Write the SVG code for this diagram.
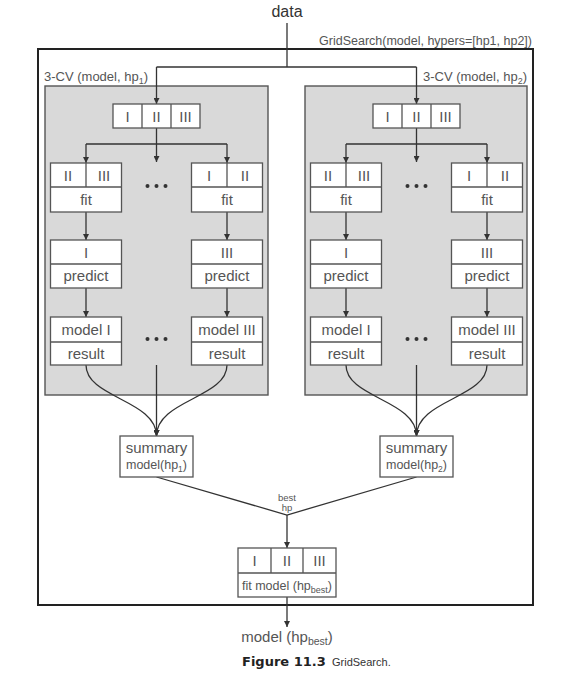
<svg xmlns="http://www.w3.org/2000/svg" width="570" height="679" viewBox="0 0 570 679">
<defs>
<marker id="ah" viewBox="0 0 10 10" refX="10" refY="5" markerWidth="6" markerHeight="6" orient="auto" markerUnits="userSpaceOnUse">
<path d="M0,0 L10,5 L0,10 z" fill="#333"/>
</marker>
<style>
text{font-family:"Liberation Sans",Arial,sans-serif;fill:#555}
.c{text-anchor:middle}
.b{font-size:15px}
.box{fill:#fff;stroke:#555;stroke-width:1.3}
.panel{fill:#d9d9d9;stroke:#555;stroke-width:1.4}
.ln{fill:none;stroke:#333;stroke-width:1.3}
.ar{fill:none;stroke:#333;stroke-width:1.3;marker-end:url(#ah)}
.dot{fill:#333}
</style>
</defs>
<rect width="570" height="679" fill="#fff"/>

<g id="gridsearch">
<rect x="38" y="49" width="495" height="556" fill="none" stroke="#222" stroke-width="2"/>
<text x="532" y="45" font-size="12.5" text-anchor="end">GridSearch(model, hypers=[hp1, hp2])</text>
</g>

<g id="data"><text x="287" y="17" class="c" font-size="16" style="fill:#333">data</text></g>

<g id="panel1">
<rect class="panel" x="45" y="86" width="223" height="309"/>
<text x="44" y="81" font-size="13">3-CV (model, hp<tspan font-size="9" dy="3">1</tspan><tspan dy="-3">)</tspan></text>
</g>
<g id="panel2">
<rect class="panel" x="305" y="86" width="222" height="309"/>
<text x="527" y="81" font-size="13" text-anchor="end">3-CV (model, hp<tspan font-size="9" dy="3">2</tspan><tspan dy="-3">)</tspan></text>
</g>

<g id="connectors">
<path class="ln" d="M287,23 V67 M156.5,67 H416.5"/>
<path class="ar" d="M156.5,67 V104"/>
<path class="ar" d="M416.5,67 V104"/>
<path class="ln" d="M156.5,128 V144 M86,144 H227"/>
<path class="ar" d="M86,144 V163"/>
<path class="ar" d="M156.5,144 V162"/>
<path class="ar" d="M227,144 V163"/>
<path class="ar" d="M86,212 V240"/>
<path class="ar" d="M227,212 V240"/>
<path class="ar" d="M86,288 V317"/>
<path class="ar" d="M227,288 V317"/>
<path class="ar" d="M86,365 C86,398 156.5,400 156.5,436"/>
<path class="ar" d="M227,365 C227,398 156.5,400 156.5,436"/>
<path class="ar" d="M156.5,365 V436"/>
<path class="ln" d="M416.5,128 V144 M346,144 H487"/>
<path class="ar" d="M346,144 V163"/>
<path class="ar" d="M416.5,144 V162"/>
<path class="ar" d="M487,144 V163"/>
<path class="ar" d="M346,212 V240"/>
<path class="ar" d="M487,212 V240"/>
<path class="ar" d="M346,288 V317"/>
<path class="ar" d="M487,288 V317"/>
<path class="ar" d="M346,365 C346,398 416.5,400 416.5,436"/>
<path class="ar" d="M487,365 C487,398 416.5,400 416.5,436"/>
<path class="ar" d="M416.5,365 V436"/>
<path class="ln" d="M156.5,477 L287,515 L416.5,477"/>
<path class="ar" d="M287,515 V548"/>
<path class="ar" d="M287,597 V627"/>
<text x="287" y="501" class="c" font-size="9.5">best</text>
<text x="287" y="511" class="c" font-size="9.5">hp</text>
</g>

<g id="split1">
<rect class="box" x="113" y="104" width="87" height="24"/>
<path class="ln" style="stroke:#555" d="M142,104 V128 M171,104 V128"/>
<text class="c b" x="127.5" y="121.5">I</text><text class="c b" x="156.5" y="121.5">II</text><text class="c b" x="185.5" y="121.5">III</text>
</g>
<g id="fit1a">
<rect class="box" x="50.5" y="163" width="71" height="49"/>
<path class="ln" style="stroke:#555" d="M50.5,187 H121.5 M86,163 V187"/>
<text class="c b" x="68" y="180.5">II</text><text class="c b" x="104" y="180.5">III</text>
<text class="c b" x="86" y="205">fit</text>
</g>
<g id="fit1b">
<rect class="box" x="191.5" y="163" width="71" height="49"/>
<path class="ln" style="stroke:#555" d="M191.5,187 H262.5 M227,163 V187"/>
<text class="c b" x="209" y="180.5">I</text><text class="c b" x="245" y="180.5">II</text>
<text class="c b" x="227" y="205">fit</text>
</g>
<g id="dots1a"><circle class="dot" cx="147.5" cy="186" r="2"/><circle class="dot" cx="156.5" cy="186" r="2"/><circle class="dot" cx="165.5" cy="186" r="2"/></g>
<g id="pred1a">
<rect class="box" x="50.5" y="240" width="71" height="48"/>
<path class="ln" style="stroke:#555" d="M50.5,264 H121.5"/>
<text class="c b" x="86" y="257.5">I</text><text class="c b" x="86" y="281">predict</text>
</g>
<g id="pred1b">
<rect class="box" x="191.5" y="240" width="71" height="48"/>
<path class="ln" style="stroke:#555" d="M191.5,264 H262.5"/>
<text class="c b" x="227" y="257.5">III</text><text class="c b" x="227" y="281">predict</text>
</g>
<g id="model1a">
<rect class="box" x="50.5" y="317" width="71" height="48"/>
<path class="ln" style="stroke:#555" d="M50.5,342 H121.5"/>
<text class="c b" x="86" y="335">model I</text><text class="c b" x="86" y="359">result</text>
</g>
<g id="model1b">
<rect class="box" x="191.5" y="317" width="71" height="48"/>
<path class="ln" style="stroke:#555" d="M191.5,342 H262.5"/>
<text class="c b" x="227" y="335">model III</text><text class="c b" x="227" y="359">result</text>
</g>
<g id="dots1b"><circle class="dot" cx="147.5" cy="339" r="2"/><circle class="dot" cx="156.5" cy="339" r="2"/><circle class="dot" cx="165.5" cy="339" r="2"/></g>
<g id="summary1">
<rect class="box" x="120" y="436" width="73" height="41"/>
<text class="c" x="156.5" y="453" font-size="15">summary</text>
<text class="c" x="156.5" y="469" font-size="12.5">model(hp<tspan font-size="8.5" dy="2.5">1</tspan><tspan dy="-2.5">)</tspan></text>
</g>

<g id="split2">
<rect class="box" x="373" y="104" width="87" height="24"/>
<path class="ln" style="stroke:#555" d="M402,104 V128 M431,104 V128"/>
<text class="c b" x="387.5" y="121.5">I</text><text class="c b" x="416.5" y="121.5">II</text><text class="c b" x="445.5" y="121.5">III</text>
</g>
<g id="fit2a">
<rect class="box" x="310.5" y="163" width="71" height="49"/>
<path class="ln" style="stroke:#555" d="M310.5,187 H381.5 M346,163 V187"/>
<text class="c b" x="328" y="180.5">II</text><text class="c b" x="364" y="180.5">III</text>
<text class="c b" x="346" y="205">fit</text>
</g>
<g id="fit2b">
<rect class="box" x="451.5" y="163" width="71" height="49"/>
<path class="ln" style="stroke:#555" d="M451.5,187 H522.5 M487,163 V187"/>
<text class="c b" x="469" y="180.5">I</text><text class="c b" x="505" y="180.5">II</text>
<text class="c b" x="487" y="205">fit</text>
</g>
<g id="dots2a"><circle class="dot" cx="407.5" cy="186" r="2"/><circle class="dot" cx="416.5" cy="186" r="2"/><circle class="dot" cx="425.5" cy="186" r="2"/></g>
<g id="pred2a">
<rect class="box" x="310.5" y="240" width="71" height="48"/>
<path class="ln" style="stroke:#555" d="M310.5,264 H381.5"/>
<text class="c b" x="346" y="257.5">I</text><text class="c b" x="346" y="281">predict</text>
</g>
<g id="pred2b">
<rect class="box" x="451.5" y="240" width="71" height="48"/>
<path class="ln" style="stroke:#555" d="M451.5,264 H522.5"/>
<text class="c b" x="487" y="257.5">III</text><text class="c b" x="487" y="281">predict</text>
</g>
<g id="model2a">
<rect class="box" x="310.5" y="317" width="71" height="48"/>
<path class="ln" style="stroke:#555" d="M310.5,342 H381.5"/>
<text class="c b" x="346" y="335">model I</text><text class="c b" x="346" y="359">result</text>
</g>
<g id="model2b">
<rect class="box" x="451.5" y="317" width="71" height="48"/>
<path class="ln" style="stroke:#555" d="M451.5,342 H522.5"/>
<text class="c b" x="487" y="335">model III</text><text class="c b" x="487" y="359">result</text>
</g>
<g id="dots2b"><circle class="dot" cx="407.5" cy="339" r="2"/><circle class="dot" cx="416.5" cy="339" r="2"/><circle class="dot" cx="425.5" cy="339" r="2"/></g>
<g id="summary2">
<rect class="box" x="380" y="436" width="73" height="41"/>
<text class="c" x="416.5" y="453" font-size="15">summary</text>
<text class="c" x="416.5" y="469" font-size="12.5">model(hp<tspan font-size="8.5" dy="2.5">2</tspan><tspan dy="-2.5">)</tspan></text>
</g>

<g id="fitbest">
<rect class="box" x="238" y="548" width="98" height="49"/>
<path class="ln" style="stroke:#555" d="M238,573 H336 M271,548 V573 M303,548 V573"/>
<text class="c b" x="254.5" y="566">I</text><text class="c b" x="287" y="566">II</text><text class="c b" x="319.5" y="566">III</text>
<text class="c" x="287" y="590" font-size="12.5">fit model (hp<tspan font-size="9" dy="2.5">best</tspan><tspan dy="-2.5">)</tspan></text>
</g>

<g id="output">
<text class="c" x="287" y="642" font-size="15">model (hp<tspan font-size="10.5" dy="3">best</tspan><tspan dy="-3">)</tspan></text>
</g>

<g id="caption">
<text x="242" y="666" font-size="13" style="font-family:'DejaVu Sans',sans-serif;font-weight:bold;fill:#222">Figure 11.3</text>
<text x="332" y="666" font-size="11" style="fill:#333">GridSearch.</text>
</g>
</svg>
